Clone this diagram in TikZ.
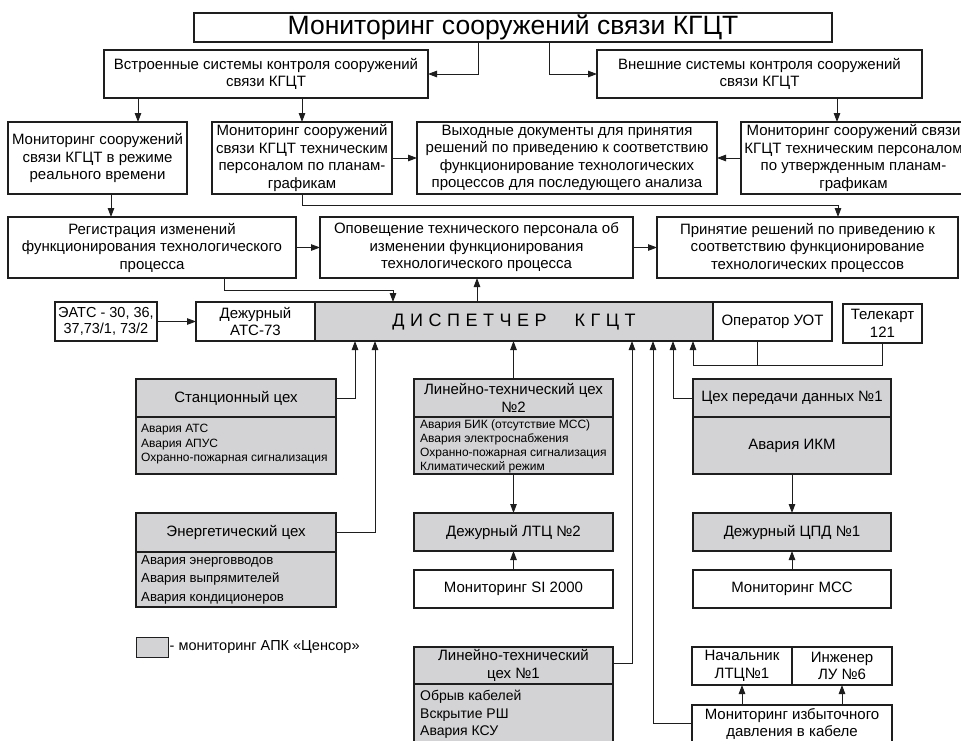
\documentclass[tikz,border=0pt]{standalone}
\usepackage{fontspec}
\setmainfont{Liberation Sans}
\usetikzlibrary{arrows.meta}
\definecolor{fillg}{RGB}{211,211,213}
\definecolor{ink}{RGB}{30,30,30}
\newcommand{\fs}[2]{\fontsize{#1}{#2}\selectfont}
\newcommand{\ls}{\hspace{5.5pt}}
\newcommand{\mybox}[7][]{%
  \pgfmathsetmacro{\mybw}{#5-#3}%
  \pgfmathsetmacro{\mybh}{#6-#4}%
  \pgfmathsetmacro{\mycx}{(#3+#5)/2}%
  \pgfmathsetmacro{\mycy}{(#4+#6)/2}%
  \node[box,minimum width=\mybw pt,minimum height=\mybh pt,#1] (#2) at (\mycx,\mycy) {#7};}
\begin{document}
\begin{tikzpicture}[x=1pt,y=-1pt,
  box/.style={draw=ink, line width=1.1pt, inner sep=1pt, outer sep=0pt, align=center, font=\fs{15}{17.5}},
  txt/.style={inner sep=0pt, align=center, font=\fs{15}{17.5}},
  body/.style={inner sep=0pt, anchor=west, align=left},
  boxl/.style={draw=ink, line width=1.1pt},
  conn/.style={draw=ink, line width=0.9pt},
  arr/.style={conn, -{Triangle[length=9pt,width=6.5pt]}}]
\useasboundingbox (0,0) rectangle (961,740);
\fill[white] (0,0) rectangle (961,740);

% top
\mybox[font=\fs{26.5}{29}]{title}{194}{13}{832}{42}{Мониторинг сооружений связи КГЦТ}
\mybox{emb}{104}{50}{428}{98}{Встроенные системы контроля сооружений\\связи КГЦТ}
\mybox{ext}{597}{50}{922}{98}{Внешние системы контроля сооружений\\связи КГЦТ}
\mybox{bA}{8}{122}{187}{194}{Мониторинг сооружений\\связи КГЦТ в режиме\\реального времени}
\mybox{bB}{212}{122}{392}{194}{Мониторинг сооружений\\связи КГЦТ техническим\\персоналом по планам-\\графикам}
\mybox{bC}{417}{122}{717}{194}{Выходные документы для принятия\\решений по приведению к соответствию\\функционирование технологических\\процессов для последующего анализа}
\mybox{bD}{741}{122}{966}{194}{Мониторинг сооружений связи\\КГЦТ техническим персоналом\\по утвержденным планам-\\графикам}
\mybox{reg}{8}{217}{296}{278}{Регистрация изменений\\функционирования технологического\\процесса}
\mybox{opov}{320}{217}{633}{278}{Оповещение технического персонала об\\изменении функционирования\\технологического процесса}
\mybox{prin}{657}{217}{958}{278}{Принятие решений по приведению к\\соответствию функционирование\\технологических процессов}

% dispatcher row
\mybox[font=\fs{14.5}{16.5}]{eats}{55}{302}{157}{341}{ЭАТС - 30, 36,\\37,73/1, 73/2}
\mybox[fill=fillg,font=\fs{18}{20}]{disp}{315}{302}{713}{341}{Д\ls И\ls С\ls П\ls Е\ls Т\ls Ч\ls Е\ls Р\hspace{28pt}К\ls Г\ls Ц\ls Т}
\mybox{dezh}{196}{302}{315}{341}{Дежурный\\АТС-73}
\mybox{oper}{713}{302}{832}{341}{Оператор УОТ}
\mybox{tel}{843}{304}{922}{343}{Телекарт\\121}

% workshops
\mybox[fill=fillg]{stan}{136}{379}{336}{474}{}
\draw[boxl] (136,417) -- (336,417);
\node[txt] at (236,398) {Станционный цех};
\node[body, font=\fs{12}{14.5}] at (141,444.5) {Авария АТС\\Авария АПУС\\Охранно-пожарная сигнализация};

\mybox[fill=fillg]{energ}{136}{513}{336}{607}{}
\draw[boxl] (136,552) -- (336,552);
\node[txt] at (236,532) {Энергетический цех};
\node[body, font=\fs{13.2}{18.5}] at (141,579.5) {Авария энерговводов\\Авария выпрямителей\\Авария кондиционеров};

\mybox[fill=fillg]{ltc2}{414}{379}{613}{474}{}
\draw[boxl] (414,417) -- (613,417);
\node[txt] at (513.5,398) {Линейно-технический цех\\№2};
\node[body, font=\fs{12}{14}] at (420,446) {Авария БИК (отсутствие МСС)\\Авария электроснабжения\\Охранно-пожарная сигнализация\\Климатический режим};

\mybox[fill=fillg]{dl2}{414}{513}{613}{551}{Дежурный ЛТЦ №2}
\mybox{si}{414}{570}{613}{608}{Мониторинг SI 2000}

\mybox[fill=fillg]{cpd}{693}{379}{891}{474}{}
\draw[boxl] (693,417) -- (891,417);
\node[txt] at (792,398) {Цех передачи данных №1};
\node[txt] at (792,446) {Авария ИКМ};

\mybox[fill=fillg]{dc}{693}{513}{891}{551}{Дежурный ЦПД №1}
\mybox{mss}{693}{570}{891}{608}{Мониторинг МСС}

\mybox[fill=fillg]{ltc1}{414}{647}{613}{760}{}
\draw[boxl] (414,684) -- (613,684);
\node[txt] at (513.5,665.5) {Линейно-технический\\цех №1};
\node[body, font=\fs{14}{17.5}] at (420,714.5) {Обрыв кабелей\\Вскрытие РШ\\Авария КСУ};

\mybox{nach}{692}{647}{792}{685}{Начальник\\ЛТЦ№1}
\mybox{inzh}{792}{647}{892}{685}{Инженер\\ЛУ №6}
\mybox{izb}{692}{705}{892}{743}{Мониторинг избыточного\\давления в кабеле}

% legend
\node[draw=ink, line width=1pt, fill=fillg, minimum width=32pt, minimum height=20pt, inner sep=0pt] (leg) at (152,647) {};
\node[anchor=west, inner sep=1pt, font=\fs{14.5}{16}] (legt) at (leg.east) {- мониторинг АПК «Ценсор»};

% helper coordinates
\coordinate (x478) at (478,0);
\coordinate (x549) at (549,0);
\coordinate (x138) at (138,0);
\coordinate (x302) at (302,0);
\coordinate (x837) at (837,0);
\coordinate (x111) at (111,0);
\coordinate (x477) at (477,0);
\coordinate (k1) at (302,205);
\coordinate (k2) at (838,205);
\coordinate (k3) at (224,290);
\coordinate (k4) at (393,290);
\coordinate (k5) at (355,398);
\coordinate (k6) at (375,532);
\coordinate (k7) at (632,663);
\coordinate (k8) at (653,723);
\coordinate (k9) at (673,398);
\coordinate (k10) at (693,365);
\coordinate (k11) at (757,365);
\coordinate (k12) at (882,365);

% connectors
\draw[arr] (title.south -| x478) |- (emb.east);
\draw[arr] (title.south -| x549) |- (ext.west);
\draw[arr] (emb.south -| x138) -- (bA.north -| x138);
\draw[arr] (emb.south -| x302) -- (bB.north -| x302);
\draw[arr] (ext.south -| x837) -- (bD.north -| x837);
\draw[arr] (bB.east) -- (bC.west);
\draw[arr] (bD.west) -- (bC.east);
\draw[arr] (bA.south -| x111) -- (reg.north -| x111);
\draw[arr] (bB.south -| k1) -- (k1) -- (k2) -- (prin.north -| k2);
\draw[arr] (reg.east) -- (opov.west);
\draw[arr] (opov.east) -- (prin.west);
\draw[arr] (reg.south -| k3) -- (k3) -- (k4) -- (disp.north -| k4);
\draw[arr] (disp.north -| x477) -- (opov.south -| x477);
\draw[arr] (eats.east) -- (dezh.west);

\draw[arr] (stan.east |- k5) -- (k5) -- (disp.south -| k5);
\draw[arr] (energ.east |- k6) -- (k6) -- (disp.south -| k6);
\draw[arr] (ltc2.north) -- (ltc2.north |- disp.south);
\draw[arr] (ltc2.south) -- (dl2.north);
\draw[arr] (si.north) -- (dl2.south);
\draw[arr] (ltc1.east |- k7) -- (k7) -- (disp.south -| k7);
\draw[arr] (izb.west |- k8) -- (k8) -- (disp.south -| k8);
\draw[arr] (cpd.west |- k9) -- (k9) -- (disp.south -| k9);
\draw[conn] (oper.south -| k11) -- (k11);
\draw[arr] (tel.south -| k12) -- (k12) -- (k10) -- (disp.south -| k10);
\draw[arr] (cpd.south) -- (dc.north);
\draw[arr] (mss.north) -- (dc.south);
\draw[arr] (izb.north -| nach.south) -- (nach.south);
\draw[arr] (izb.north -| inzh.south) -- (inzh.south);
\end{tikzpicture}
\end{document}
